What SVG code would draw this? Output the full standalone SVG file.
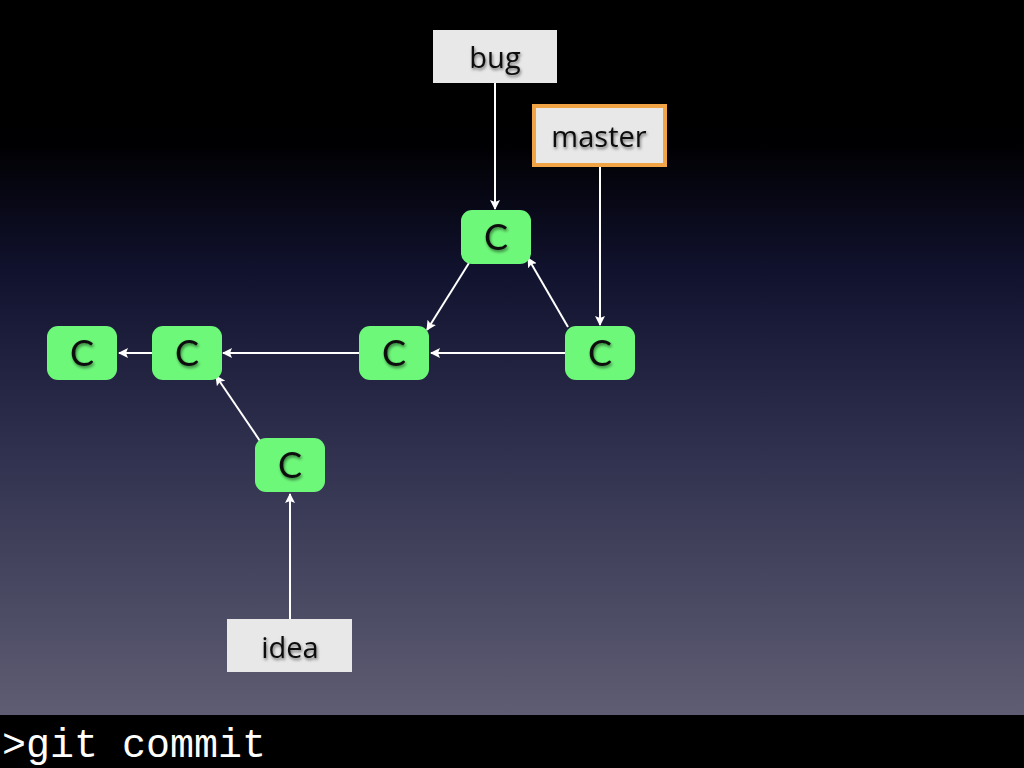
<svg xmlns="http://www.w3.org/2000/svg" width="1024" height="768" viewBox="0 0 1024 768">
<defs>
<linearGradient id="bg" x1="0" y1="0" x2="0" y2="1">
<stop offset="0" stop-color="#000000"/>
<stop offset="0.2" stop-color="#000002"/>
<stop offset="0.38" stop-color="#11122e"/>
<stop offset="0.6" stop-color="#2c2d4b"/>
<stop offset="1" stop-color="#5e5d73"/>
</linearGradient>
<marker id="ah" viewBox="0 0 10 10" refX="9" refY="5" markerWidth="10" markerHeight="10" orient="auto" markerUnits="userSpaceOnUse">
<path d="M0,0 L10,5 L0,10 L2,5 z" fill="#fff"/>
</marker>
<filter id="sh"><feDropShadow dx="1" dy="2" stdDeviation="1.5" flood-color="#000" flood-opacity="0.5"/></filter>
</defs>
<style>
.c rect{fill:#6ef87a}
.c text{font-family:"Lato","Liberation Sans",sans-serif;font-size:36px;fill:#111;text-anchor:middle;filter:url(#sh)}
.l rect{fill:#e8e8e8}
.l text{font-family:"Open Sans","Liberation Sans",sans-serif;font-size:29px;fill:#111;text-anchor:middle;filter:url(#sh)}
.e line{stroke:#fff;stroke-width:2;marker-end:url(#ah)}
</style>
<rect width="1024" height="715" fill="url(#bg)"/>
<g class="e" id="connectors">
<line x1="495" y1="83" x2="495" y2="209"/>
<line x1="600" y1="167" x2="600" y2="325"/>
<line x1="469" y1="263" x2="427" y2="330"/>
<line x1="568" y1="327" x2="528" y2="258"/>
<line x1="565" y1="353" x2="431" y2="353"/>
<line x1="359" y1="353" x2="223" y2="353"/>
<line x1="152" y1="353" x2="119" y2="353"/>
<line x1="260" y1="441" x2="216" y2="376"/>
<line x1="290" y1="619" x2="290" y2="494"/>
</g>
<g class="c" id="c1"><rect x="47" y="326" width="70" height="54" rx="11"/><text x="82" y="366">C</text></g>
<g class="c" id="c2"><rect x="152" y="326" width="70" height="54" rx="11"/><text x="187" y="366">C</text></g>
<g class="c" id="c3"><rect x="359" y="326" width="70" height="54" rx="11"/><text x="394" y="366">C</text></g>
<g class="c" id="c4"><rect x="565" y="326" width="70" height="54" rx="11"/><text x="600" y="366">C</text></g>
<g class="c" id="c5"><rect x="461" y="210" width="70" height="54" rx="11"/><text x="496" y="250">C</text></g>
<g class="c" id="c6"><rect x="255" y="438" width="70" height="54" rx="11"/><text x="290" y="478">C</text></g>
<g class="l" id="bug"><rect x="433" y="30" width="124" height="53"/><text x="495" y="68">bug</text></g>
<g class="l" id="master"><rect x="534" y="106" width="131" height="59" stroke="#f0a445" stroke-width="4"/><text x="599" y="147">master</text></g>
<g class="l" id="idea"><rect x="227" y="619" width="125" height="53"/><text x="290" y="658">idea</text></g>
<rect x="0" y="715" width="1024" height="53" fill="#000"/>
<text x="2" y="757" font-family="Liberation Mono,monospace" font-size="40" fill="#fff">&gt;git commit</text>
</svg>
